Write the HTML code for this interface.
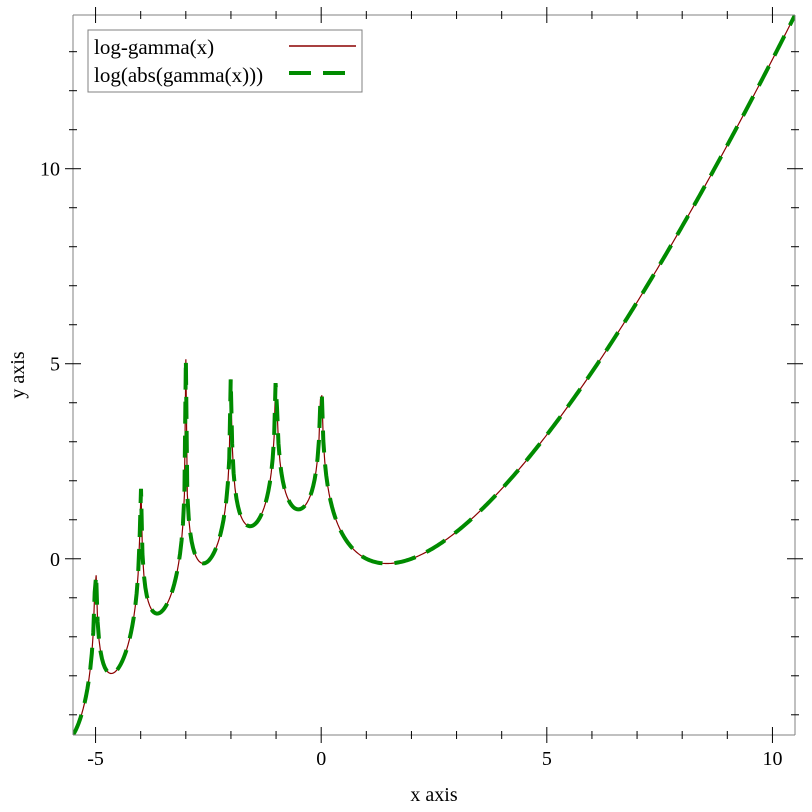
<!DOCTYPE html>
<html><head><meta charset="utf-8"><style>
html,body{margin:0;padding:0;background:#fff;}
svg{display:block;font-family:"Liberation Serif",serif;}
</style></head><body>
<svg id="s" width="812" height="812" xmlns="http://www.w3.org/2000/svg"></svg>
<script>
const s=document.getElementById('s');
const X0=73,X1=795,Y0=15,Y1=735;
const xmin=-5.5,xmax=10.5;
const ymin=-4.5181,ymax=13.9406;
function px(x){return X0+(x-xmin)/(xmax-xmin)*(X1-X0);}
function py(y){return Y1-(y-ymin)/(ymax-ymin)*(Y1-Y0);}
const g=[0.99999999999980993,676.5203681218851,-1259.1392167224028,771.32342877765313,-176.61502916214059,12.507343278686905,-0.13857109526572012,9.9843695780195716e-6,1.5056327351493116e-7];
function lg(x){
 if(x<0.5){return Math.log(Math.PI/Math.abs(Math.sin(Math.PI*x)))-lg(1-x);}
 x-=1;let a=g[0];const t=x+7.5;
 for(let i=1;i<9;i++)a+=g[i]/(x+i);
 return 0.5*Math.log(2*Math.PI)+(x+0.5)*Math.log(t)-t+Math.log(a);
}
let h='';
function L(x1,y1,x2,y2,c,w){h+=`<line x1="${x1}" y1="${y1}" x2="${x2}" y2="${y2}" stroke="${c}" stroke-width="${w||1}"/>`;}
h+=`<defs><clipPath id="c"><rect x="${X0}" y="${Y0}" width="${X1-X0}" height="${Y1-Y0}"/></clipPath></defs>`;
let d='';const N=500;
for(let i=0;i<N;i++){const x=xmin+i*(xmax-xmin)/(N-1);const y=lg(x);d+=(i?'L':'M')+px(x).toFixed(2)+','+py(y).toFixed(2);}
h+=`<g clip-path="url(#c)"><path d="${d}" fill="none" stroke="#8b0000" stroke-width="1.2"/>`;
h+=`<path d="${d}" fill="none" stroke="#008b00" stroke-width="4" stroke-dasharray="22,12"/></g>`;
const ac='#808080';
L(X0,Y0,X1,Y0,ac);L(X0,Y1,X1,Y1,ac);L(X0,Y0,X0,Y1,ac);L(X1,Y0,X1,Y1,ac);
for(let x=-5;x<=10;x++){const p=px(x);const m=(x%5===0)?8:4;
 L(p,Y1-m,p,Y1+m,'#000');L(p,Y0-m,p,Y0+m,'#000');
 if(x%5===0)h+=`<text x="${p}" y="${Y1+30}" font-size="20" text-anchor="middle">${x}</text>`;}
for(let y=-4;y<=13;y++){const p=py(y);const m=(y%5===0)?8:4;
 L(X0-m,p,X0+m,p,'#000');L(X1-m,p,X1+m,p,'#000');
 if(y%5===0)h+=`<text x="${X0-13}" y="${p+7}" font-size="20" text-anchor="end">${y}</text>`;}
h+=`<text x="434" y="801" font-size="20" text-anchor="middle">x axis</text>`;
h+=`<text x="0" y="0" font-size="20" text-anchor="middle" transform="translate(24,375) rotate(-90)">y axis</text>`;
h+=`<rect x="88" y="30" width="274" height="62" fill="#fff" stroke="#808080"/>`;
h+=`<text x="94" y="54" font-size="21">log-gamma(x)</text>`;
h+=`<text x="94" y="82" font-size="21">log(abs(gamma(x)))</text>`;
L(289,46,356,46,'#8b0000',1.5);
h+=`<line x1="289" y1="73" x2="356" y2="73" stroke="#008b00" stroke-width="4" stroke-dasharray="22,12"/>`;
s.innerHTML=h;
</script>
</body></html>
